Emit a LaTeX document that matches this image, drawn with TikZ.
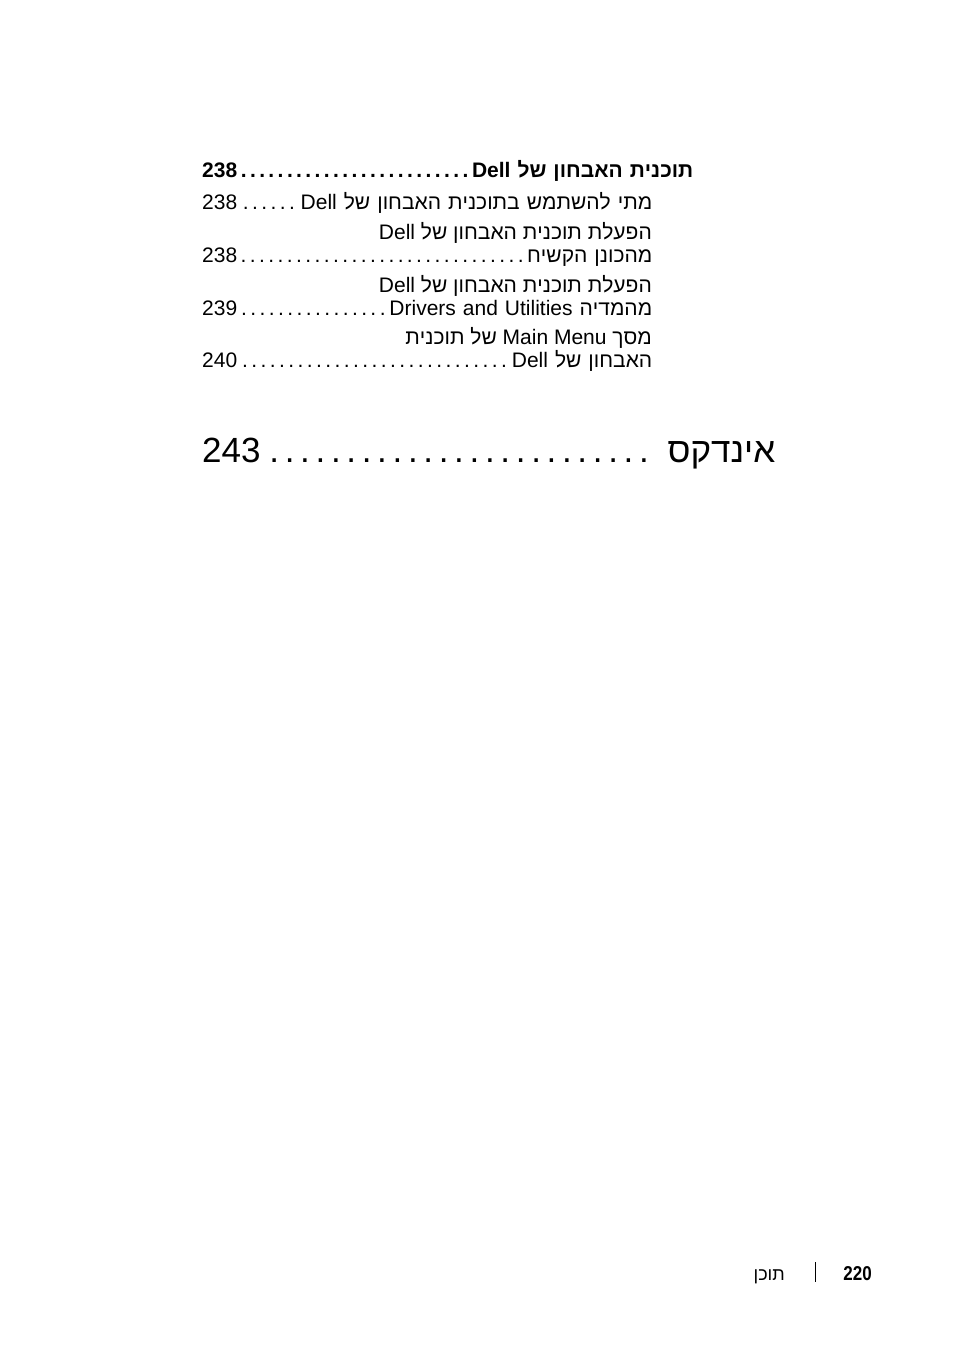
\documentclass[tikz,border=0pt]{standalone}
\usepackage{fontspec}
\setmainfont{Liberation Sans}
\TeXXeTstate=1
\begin{document}
\begin{tikzpicture}[x=1pt,y=1pt,
  row/.style={anchor=base west,inner sep=0pt,font=\fontsize{21}{21}\selectfont},
  rrow/.style={anchor=base east,inner sep=0pt,font=\fontsize{21}{21}\selectfont}]
\useasboundingbox (0,0) rectangle (954,-1354);
\node[row,text width=491pt,font=\fontsize{21}{21}\selectfont\bfseries] (l1) at (202,-177) {238\dotfill\beginR תוכנית האבחון של Dell\endR};
\node[row,text width=450pt] (l2) at (202,-209) {238\dotfill\beginR מתי להשתמש בתוכנית האבחון של Dell\endR};
\node[rrow] (l3) at (652,-239) {\beginR הפעלת תוכנית האבחון של Dell\endR};
\node[row,text width=450pt] (l4) at (202,-262) {238\dotfill\beginR מהכונן הקשיח\endR};
\node[rrow] (l5) at (652,-292) {\beginR הפעלת תוכנית האבחון של Dell\endR};
\node[row,text width=450pt] (l6) at (202,-315) {239\dotfill\beginR מהמדיה \beginL Drivers and Utilities\endL\endR};
\node[rrow] (l7) at (652,-344) {\beginR מסך \beginL Main Menu\endL{} של תוכנית\endR};
\node[row,text width=450pt] (l8) at (202,-367) {240\dotfill\beginR האבחון של Dell\endR};
\node[row,text width=573pt,font=\fontsize{35}{35}\selectfont] (l9) at (202,-462) {243\dotfill\hspace{10pt}\beginR אינדקס\endR};
\node[anchor=base east,inner sep=0pt,font=\fontsize{20}{20}\selectfont\bfseries] (pg) at (872,-1280) {\scalebox{0.85}[1]{220}};
\draw[line width=1pt] (815,-1262) -- (815,-1282);
\node[anchor=base east,inner sep=0pt,font=\fontsize{18}{18}\selectfont] (ft) at (785,-1280) {\beginR תוכן\endR};
\end{tikzpicture}
\end{document}
